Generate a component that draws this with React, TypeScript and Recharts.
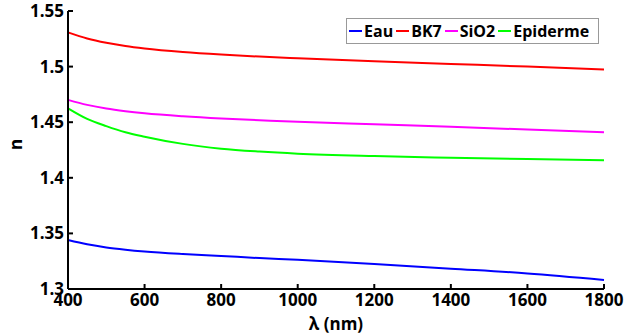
import { LineChart, Line, XAxis, YAxis } from "recharts";

const wavelengths = [400, 450, 500, 550, 600, 700, 800, 900, 1000, 1200, 1400, 1600, 1800];
const eau = [1.344, 1.3402, 1.3374, 1.3354, 1.3338, 1.3315, 1.3297, 1.3278, 1.3262, 1.3225, 1.3183, 1.314, 1.3082];
const bk7 = [1.5308, 1.5253, 1.5214, 1.5185, 1.5163, 1.5131, 1.5108, 1.509, 1.5075, 1.5048, 1.5024, 1.5, 1.4975];
const sio2 = [1.4701, 1.4656, 1.4623, 1.4599, 1.458, 1.4553, 1.4533, 1.4518, 1.4504, 1.4481, 1.4458, 1.4434, 1.4409];
const epiderme = [1.4625, 1.453, 1.4465, 1.441, 1.437, 1.4305, 1.4262, 1.4236, 1.4217, 1.4195, 1.418, 1.4168, 1.4158];

const xTicks = [400, 600, 800, 1000, 1200, 1400, 1600, 1800];
const yTicks = [1.3, 1.35, 1.4, 1.45, 1.5, 1.55];

const series = [
  { key: "Eau", color: "#0000ff" },
  { key: "BK7", color: "#ff0000" },
  { key: "SiO2", color: "#ff00ff" },
  { key: "Epiderme", color: "#00ff00" },
];

const data = wavelengths.map((wl, i) => ({
  wl,
  Eau: eau[i],
  BK7: bk7[i],
  SiO2: sio2[i],
  Epiderme: epiderme[i],
}));

const font = "'Open Sans', sans-serif";

const LegendBox = () => (
  <div
    style={{
      position: "absolute",
      left: 346,
      top: 18,
      width: 249,
      height: 24,
      border: "1px solid #999",
      background: "#fff",
      display: "flex",
      alignItems: "center",
      paddingLeft: 2,
      fontFamily: font,
      fontWeight: 700,
      fontSize: 16,
      color: "#000",
      whiteSpace: "nowrap",
    }}
  >
    {series.map((s) => (
      <span key={s.key} style={{ display: "flex", alignItems: "center", marginRight: 3 }}>
        <span style={{ width: 13, height: 2, background: s.color, display: "inline-block", marginRight: 2 }} />
        {s.key}
      </span>
    ))}
  </div>
);

const App = () => {
  const tickStyle = { fill: "#000", fontFamily: font, fontWeight: 700, fontSize: 17 };
  return (
    <div style={{ position: "absolute", left: 0, top: 0, width: 625, height: 335, background: "#fff" }}>
      <LineChart width={625} height={335} data={data} margin={{ top: 11, right: 21, bottom: 4, left: 0 }}>
        <XAxis
          dataKey="wl"
          type="number"
          domain={[400, 1800]}
          ticks={xTicks}
          interval={0}
          height={42}
          tick={tickStyle}
          tickSize={-5}
          tickMargin={10}
          stroke="#000"
          strokeWidth={2}
          label={{ value: "λ (nm)", position: "insideBottom", offset: 1, fill: "#000", fontFamily: font, fontWeight: 700, fontSize: 17 }}
        />
        <YAxis
          type="number"
          domain={[1.3, 1.55]}
          ticks={yTicks}
          interval={0}
          width={68}
          tick={tickStyle}
          tickSize={-5}
          tickMargin={9}
          tickFormatter={(v: number) => String(Number(v.toFixed(2)))}
          stroke="#000"
          strokeWidth={2}
          label={{ value: "n", angle: -90, position: "insideLeft", offset: 16, fill: "#000", fontFamily: font, fontWeight: 700, fontSize: 17 }}
        />
        {series.map((s) => (
          <Line
            key={s.key}
            dataKey={s.key}
            type="monotone"
            stroke={s.color}
            strokeWidth={2}
            dot={false}
            isAnimationActive={false}
          />
        ))}
      </LineChart>
      <LegendBox />
    </div>
  );
};

export default App;
